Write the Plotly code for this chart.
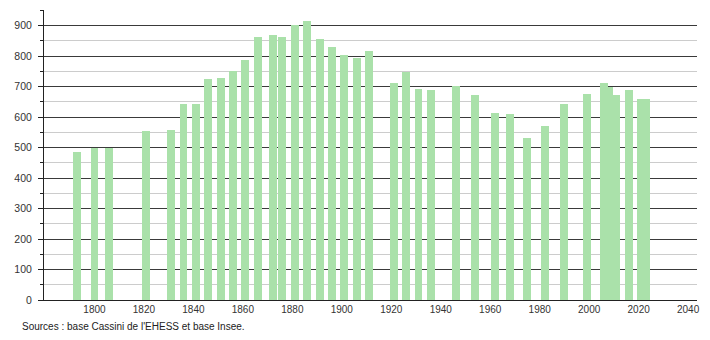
import plotly.graph_objects as go

years = [1793, 1800, 1806, 1821, 1831, 1836, 1841, 1846, 1851, 1856,
         1861, 1866, 1872, 1876, 1881, 1886, 1891, 1896, 1901, 1906,
         1911, 1921, 1926, 1931, 1936, 1946, 1954, 1962, 1968, 1975,
         1982, 1990, 1999, 2006, 2008, 2011, 2016, 2021, 2023]
population = [486, 497, 500, 554, 558, 643, 643, 726, 729, 750,
              786, 861, 870, 861, 903, 916, 856, 831, 805, 795,
              815, 713, 749, 693, 690, 703, 673, 614, 611, 530,
              572, 644, 676, 712, 700, 673, 690, 660, 660]
x_ticks = [1800, 1820, 1840, 1860, 1880, 1900, 1920, 1940, 1960, 1980, 2000, 2020, 2040]
y_ticks = [0, 100, 200, 300, 400, 500, 600, 700, 800, 900]
source_text = "Sources : base Cassini de l'EHESS et base Insee."

bar_color = "rgb(170,225,170)"

fig = go.Figure()
fig.add_trace(go.Bar(
    x=years, y=population, width=3.2,
    marker=dict(color=bar_color, line=dict(width=0)),
    hoverinfo="x+y",
))

fig.update_layout(
    width=710, height=340,
    margin=dict(l=44, r=10, t=10, b=40),
    paper_bgcolor="white", plot_bgcolor="white",
    showlegend=False,
    bargap=0,
    font=dict(family="Liberation Sans, Arial, sans-serif", size=10, color="#333333"),
    xaxis=dict(
        range=[1779.6, 2043.6],
        tickvals=x_ticks, ticktext=[str(t) for t in x_ticks],
        showgrid=False, zeroline=False,
        showline=True, linecolor="#222222", linewidth=1,
        ticks="", tickfont=dict(size=10, color="#333333"),
        fixedrange=True,
    ),
    yaxis=dict(
        range=[0, 951],
        tickvals=y_ticks, ticktext=[str(t) for t in y_ticks],
        showgrid=True, gridcolor="#3a3a3a", gridwidth=1,
        zeroline=False,
        showline=True, linecolor="#222222", linewidth=1,
        ticks="outside", ticklen=5, tickcolor="#222222", tickwidth=1,
        tickfont=dict(size=10.5, color="#333333"),
        ticklabelstandoff=4,
        minor=dict(dtick=50, tick0=0, showgrid=True, gridcolor="#cccccc", gridwidth=1,
                   ticks="outside", ticklen=3, tickcolor="#222222"),
        layer="below traces",
        fixedrange=True,
    ),
    annotations=[dict(
        text=source_text, xref="paper", yref="paper",
        x=-0.037, y=-0.093, xanchor="left", yanchor="middle",
        showarrow=False, font=dict(size=10, color="#222222"),
    )],
)

fig.write_html("out.html")
